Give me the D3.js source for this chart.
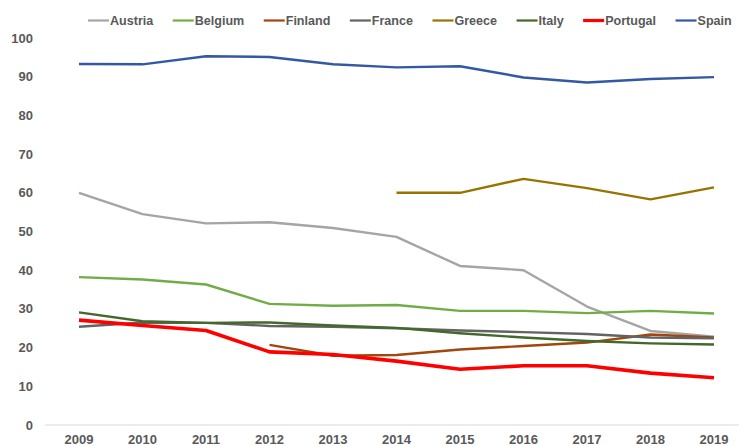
<!DOCTYPE html>
<html><head><meta charset="utf-8">
<script src="https://cdn.jsdelivr.net/npm/d3@7"></script>
<style>body{margin:0;background:#fff}svg{display:block}</style>
</head><body>
<svg id="c" width="739" height="446"></svg>
<script>
const years = [2009,2010,2011,2012,2013,2014,2015,2016,2017,2018,2019];
const yTicks = [0,10,20,30,40,50,60,70,80,90,100];
const austria  = [60.0,54.5,52.1,52.4,50.9,48.6,41.1,40.0,30.6,24.3,22.8];
const belgium  = [38.2,37.6,36.3,31.3,30.8,31.0,29.5,29.5,28.9,29.5,28.8];
const finland  = [null,null,null,20.7,17.9,18.1,19.5,20.4,21.3,23.4,22.6];
const france   = [25.4,26.5,26.4,25.6,25.4,25.0,24.4,24.0,23.5,22.6,22.4];
const greece   = [null,null,null,null,null,60.0,60.0,63.6,61.2,58.3,61.4];
const italy    = [29.1,26.8,26.4,26.5,25.7,25.1,23.7,22.6,21.7,21.1,20.8];
const portugal = [27.1,25.7,24.4,18.9,18.2,16.5,14.4,15.3,15.3,13.4,12.2];
const spain    = [93.3,93.2,95.3,95.1,93.2,92.4,92.7,89.8,88.5,89.4,89.9];

const seriesNames = ["Austria","Belgium","Finland","France","Greece","Italy","Portugal","Spain"];
const seriesData = [austria,belgium,finland,france,greece,italy,portugal,spain];
const colors = ["#A5A5A5","#70AD47","#9E480E","#636363","#997300","#43682B","#FF0000","#3358A4"];

const svg = d3.select("#c");
const font = "'Liberation Sans',Arial,sans-serif";
const x = d3.scalePoint().domain(years).range([79,714]);
const y = d3.scaleLinear().domain([0,100]).range([425,38]);

// baseline
svg.append("line").attr("x1",45).attr("x2",739).attr("y1",y(0)).attr("y2",y(0))
  .attr("stroke","#D9D9D9").attr("stroke-width",1);

// y labels
svg.append("g").selectAll("text").data(yTicks).join("text")
  .attr("x",33).attr("y",d=>y(d)).attr("dy","0.35em").attr("text-anchor","end")
  .attr("font-family",font).attr("font-weight","bold").attr("font-size",13).attr("fill","#595959")
  .text(d=>d);

// x labels
svg.append("g").selectAll("text").data(years).join("text")
  .attr("x",d=>x(d)).attr("y",444).attr("text-anchor","middle")
  .attr("font-family",font).attr("font-weight","bold").attr("font-size",13).attr("fill","#595959")
  .text(d=>d);

const line = d3.line().defined(d=>d.v!=null).x(d=>x(d.year)).y(d=>y(d.v));
seriesData.forEach((arr,i)=>{
  svg.append("path").datum(arr.map((v,j)=>({year:years[j],v})))
    .attr("fill","none").attr("stroke",colors[i])
    .attr("stroke-width",seriesNames[i]==="Portugal"?3.6:2.4)
    .attr("stroke-linejoin","round")
    .attr("d",line);
});

// legend
let lx = 88;
const lg = svg.append("g");
seriesNames.forEach((n,i)=>{
  lg.append("line").attr("x1",lx).attr("x2",lx+21).attr("y1",20.5).attr("y2",20.5)
    .attr("stroke",colors[i]).attr("stroke-width",n==="Portugal"?3.2:2.2);
  const t = lg.append("text").attr("x",lx+22).attr("y",20.5).attr("dy","0.35em")
    .attr("font-family",font).attr("font-weight","bold").attr("font-size",13).attr("fill","#595959")
    .text(n);
  const w = t.node().getComputedTextLength() * 0.965;
  t.attr("textLength",w).attr("lengthAdjust","spacingAndGlyphs");
  lx += 22 + w + 19.5;
});
</script>
</body></html>
